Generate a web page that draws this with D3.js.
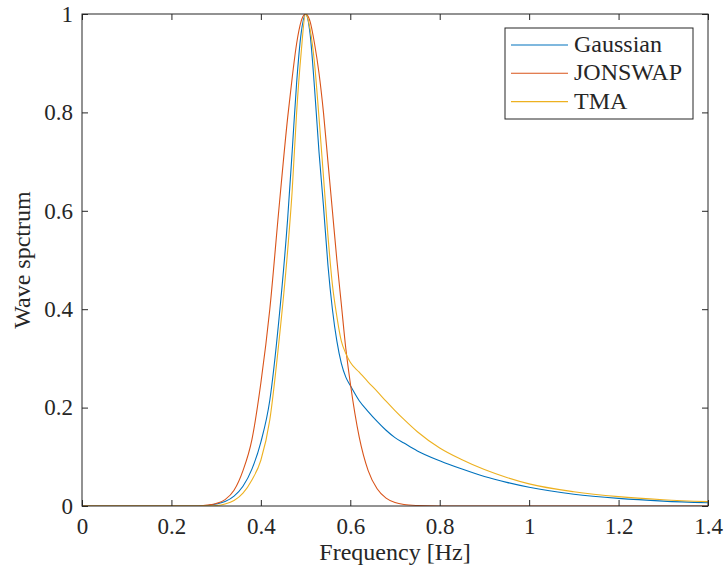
<!DOCTYPE html>
<html>
<head>
<meta charset="utf-8">
<script src="https://cdn.jsdelivr.net/npm/d3@7"></script>
</head>
<body style="margin:0; background:#fff">
<div id="chart"></div>
<script>
// frequency grid [Hz] and spectra
var freq = [0, 0.1, 0.2, 0.26, 0.28, 0.30, 0.32, 0.34, 0.36, 0.38, 0.40, 0.42, 0.44, 0.46, 0.47, 0.48, 0.49,
            0.50, 0.51, 0.52, 0.53, 0.54, 0.55, 0.56, 0.57, 0.58, 0.59, 0.60, 0.62, 0.64, 0.66, 0.68, 0.70,
            0.72, 0.75, 0.80, 0.85, 0.90, 0.95, 1.0, 1.1, 1.2, 1.3, 1.4]

var gaussian = [0, 0, 0, 0, 0.001, 0.004, 0.009, 0.020, 0.040, 0.075, 0.13, 0.215, 0.375, 0.585, 0.72, 0.86, 0.96,
                1.0, 0.96, 0.85, 0.72, 0.61, 0.49, 0.40, 0.335, 0.29, 0.262, 0.245, 0.214, 0.192, 0.172, 0.154, 0.139,
                0.128, 0.112, 0.092, 0.075, 0.060, 0.048, 0.038, 0.024, 0.0155, 0.010, 0.0065]

var jonswap = [0, 0, 0, 0, 0.002, 0.005, 0.013, 0.032, 0.072, 0.135, 0.25, 0.40, 0.60, 0.79, 0.87, 0.94, 0.985,
               1.0, 0.985, 0.94, 0.88, 0.80, 0.70, 0.60, 0.50, 0.41, 0.32, 0.25, 0.14, 0.072, 0.035, 0.016, 0.007,
               0.003, 0.001, 0, 0, 0, 0, 0, 0, 0, 0, 0]

var tma = [0, 0, 0, 0, 0.0003, 0.001, 0.004, 0.011, 0.026, 0.053, 0.093, 0.175, 0.33, 0.52, 0.64, 0.80, 0.92,
           1.0, 0.97, 0.90, 0.79, 0.67, 0.55, 0.45, 0.385, 0.335, 0.31, 0.292, 0.272, 0.252, 0.233, 0.213, 0.194,
           0.176, 0.151, 0.118, 0.094, 0.074, 0.058, 0.045, 0.029, 0.019, 0.0128, 0.0088]

var seriesNames = ["Gaussian", "JONSWAP", "TMA"]
var seriesValues = [gaussian, jonswap, tma]
var xTicks = [0, 0.2, 0.4, 0.6, 0.8, 1, 1.2, 1.4]
var yTicks = [0, 0.2, 0.4, 0.6, 0.8, 1]

var color = ["#0072BD", "#D95319", "#EDB120"]
var serifFont = "Times New Roman"

var width = 725, height = 574
var margin = {top: 14, right: 17, bottom: 68, left: 82}

var svg = d3.select("#chart").append("svg")
  .attr("width", width)
  .attr("height", height)

var x = d3.scaleLinear().domain([0, 1.4]).range([margin.left, width - margin.right])
var y = d3.scaleLinear().domain([0, 1]).range([height - margin.bottom, margin.top])

function setFont(sel, size) {
  sel.style("font-family", serifFont).style("font-size", size + "px")
}

svg.append("clipPath").attr("id", "plotclip")
  .append("rect")
  .attr("x", x(0)).attr("y", y(1))
  .attr("width", x(1.4) - x(0)).attr("height", y(0) - y(1))

// curves
var line = d3.line()
  .x(function(d) { return x(d[0]) })
  .y(function(d) { return y(d[1]) })
  .curve(d3.curveMonotoneX)

seriesValues.forEach(function(vals, i) {
  svg.append("path")
    .datum(freq.map(function(f, k) { return [f, vals[k]] }))
    .attr("clip-path", "url(#plotclip)")
    .attr("fill", "none")
    .attr("stroke", color[i])
    .attr("stroke-width", 1.1)
    .attr("d", line)
})

// axes, MATLAB style box with inward ticks
var tickLen = 6
var axisColor = "#262626"

function styleAxis(g) {
  g.attr("font-family", null).attr("font-size", null)
  g.select(".domain").remove()
  g.selectAll(".tick line").attr("stroke", axisColor).attr("stroke-width", 1)
  g.selectAll(".tick text").attr("fill", axisColor).call(setFont, 23)
}

svg.append("g")
  .attr("transform", "translate(0," + y(0) + ")")
  .call(d3.axisBottom(x).tickValues(xTicks).tickSize(-tickLen).tickPadding(12).tickFormat(d3.format("")))
  .call(styleAxis)

svg.append("g")
  .attr("transform", "translate(0," + y(1) + ")")
  .call(d3.axisTop(x).tickValues(xTicks).tickSize(-tickLen).tickFormat(""))
  .call(styleAxis)

svg.append("g")
  .attr("transform", "translate(" + x(0) + ",0)")
  .call(d3.axisLeft(y).tickValues(yTicks).tickSize(-tickLen).tickPadding(9).tickFormat(d3.format("")))
  .call(styleAxis)

svg.append("g")
  .attr("transform", "translate(" + x(1.4) + ",0)")
  .call(d3.axisRight(y).tickValues(yTicks).tickSize(-tickLen).tickFormat(""))
  .call(styleAxis)

svg.append("rect")
  .attr("x", x(0)).attr("y", y(1))
  .attr("width", x(1.4) - x(0)).attr("height", y(0) - y(1))
  .attr("fill", "none")
  .attr("stroke", axisColor)
  .attr("stroke-width", 1)

// axis labels
svg.append("text")
  .attr("x", (x(0) + x(1.4)) / 2)
  .attr("y", 560)
  .attr("text-anchor", "middle")
  .attr("fill", axisColor)
  .call(setFont, 24)
  .text("Frequency [Hz]")

svg.append("text")
  .attr("transform", "translate(30," + (y(0) + y(1)) / 2 + ") rotate(-90)")
  .attr("text-anchor", "middle")
  .attr("fill", axisColor)
  .call(setFont, 24)
  .text("Wave spctrum")

// legend
var legend = svg.append("g").attr("transform", "translate(505,28)")
legend.append("rect")
  .attr("width", 188).attr("height", 91)
  .attr("fill", "#fff")
  .attr("stroke", axisColor)
  .attr("stroke-width", 1)

seriesNames.forEach(function(name, i) {
  var ly = 17 + i * 28.3
  legend.append("line")
    .attr("x1", 6).attr("x2", 63)
    .attr("y1", ly).attr("y2", ly)
    .attr("stroke", color[i])
    .attr("stroke-width", 1.1)
  legend.append("text")
    .attr("x", 69).attr("y", ly + 7)
    .attr("fill", axisColor)
    .call(setFont, 24)
    .text(name)
})
</script>
</body>
</html>
